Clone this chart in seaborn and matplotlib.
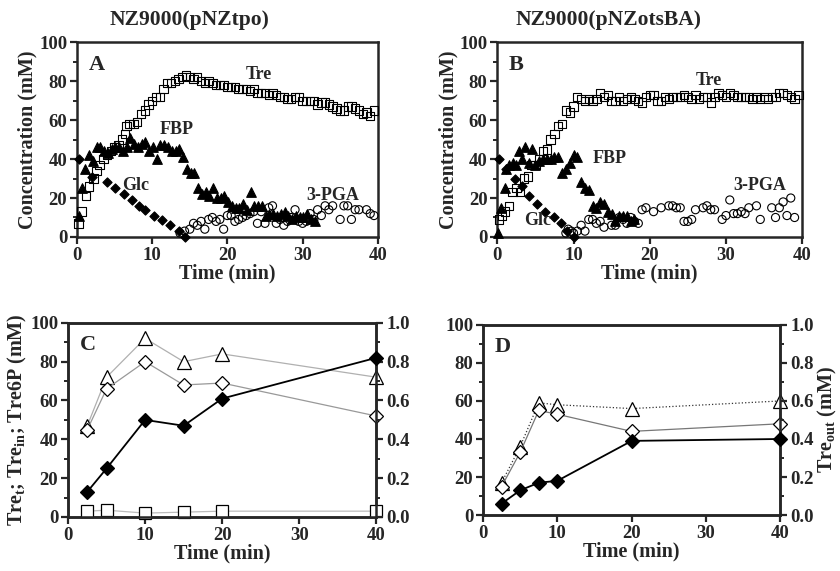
import matplotlib
matplotlib.use("Agg")
import matplotlib.pyplot as plt
import seaborn as sns
import pandas as pd
from matplotlib.ticker import MultipleLocator

sns.set_style("ticks")
plt.rcParams['font.family'] = ['Liberation Serif', 'DejaVu Serif']
plt.rcParams['font.weight'] = 'bold'
plt.rcParams['axes.labelweight'] = 'bold'
plt.rcParams['mathtext.fontset'] = 'custom'
plt.rcParams['mathtext.rm'] = 'Liberation Serif:bold'
plt.rcParams['mathtext.it'] = 'Liberation Serif:bold'
plt.rcParams['mathtext.bf'] = 'Liberation Serif:bold'

# ---------- Panel A ----------
a_tre_t = [0.2,0.6,1.2,1.6,2.2,2.6,3.0,3.5,4.0,4.5,5.0,5.5,6.0,6.4,6.6,7.0,7.5,8.0,8.5,9.0,9.5,10,10.5,11,11.5,12,12.5,13,13.5,14,14.5,15,15.5,16,16.5,17,17.5,18,18.5,19,19.5,20,20.5,21,21.5,22,22.5,23,23.5,24,24.5,25,25.5,26,26.5,27,27.5,28,28.5,29,29.5,30,30.5,31,31.5,32,32.5,33,33.5,34,34.5,35,35.5,36,36.5,37,37.5,38,38.5,39,39.5]
a_tre = [7,13,21,26,30,34,37,40,42,44,46,47,50,53,57,58,58,59,63,65,68,70,72,72,76,79,79,80,81,82,83,82,81,82,80,79,80,79,78,78,78,77,77,77,76,76,76,75,76,74,74,74,73,74,73,72,72,71,71,72,72,70,70,70,70,68,69,69,68,67,66,65,65,67,67,66,65,63,64,62,65]
a_fbp_t = [0.3,0.6,1.0,1.6,2.1,2.6,3.1,3.6,4.1,4.6,5.1,5.6,6.1,6.6,7.1,7.6,8.1,8.6,9.1,9.6,10.1,10.6,11.1,11.6,12.1,12.6,13.1,13.6,14.1,14.6,15.1,15.6,16.1,16.6,17.1,17.6,18.1,18.6,19.1,19.6,20.1,20.6,21.1,21.6,22.1,22.6,23.1,23.6,24.1,24.6,25.1,25.6,26.1,26.6,27.1,27.6,28.1,28.6,29.1,29.6,30.1,30.6,31.1,31.6]
a_fbp = [11,25,35,42,39,46,46,44,43,45,46,46,44,46,51,48,46,48,49,44,46,40,47,47,46,44,44,45,41,35,33,33,25,22,23,21,25,20,20,21,18,16,15,15,17,14,23,16,16,16,11,12,12,11,12,13,11,9,11,10,10,12,9,8]
a_glc_t = [0.2,2.0,4.0,5.1,6.2,7.3,8.2,9.0,10.2,11.3,12.4,13.5,14.3]
a_glc = [40,31,28,25,22,19,16,14,11,8.5,6,3,0]
a_pga_t = [13.7,14.3,15,15.5,16,16.5,17,17.5,18,18.5,19,19.5,20,20.5,21,21.5,22,22.5,23,23.5,24,24.5,25,25.5,26,26.5,27,27.5,28,28.5,29,29.5,30,30.5,31,31.5,32,32.5,33,33.5,34,35,35.5,36,36.5,37,37.5,38.5,39,39.5]
a_pga = [2,3,4,7,6,8,4,9,10,8,9,4,11,11,8,9,10,11,12,13,7,13,7,15,16,7,9,6,8,10,14,8,7,8,12,9,14,11,16,14,16,9,16,16,9,14,14,14,12,11]

# ---------- Panel B ----------
b_tre_t = [0.2,0.6,1,1.5,2,2.5,3,3.5,4,4.5,5,5.5,6,6.5,7,7.5,8,8.5,9,9.5,10,10.5,11,11.5,12,12.5,13,13.5,14,14.5,15,15.5,16,16.5,17,17.5,18,18.5,19,19.5,20,20.5,21,21.5,22,22.5,23,23.5,24,24.5,25,25.5,26,26.5,27,27.5,28,28.5,29,29.5,30,30.5,31,31.5,32,32.5,33,33.5,34,34.5,35,35.5,36,36.5,37,37.5,38,38.5,39,39.5]
b_tre = [9,11,13,16,23,25,23,30,31,37,37,40,44,45,50,53,57,58,65,64,67,72,71,70,71,70,71,74,72,73,70,70,72,70,71,72,71,70,69,72,73,73,70,70,72,71,72,72,72,73,72,71,73,71,72,72,69,72,74,73,72,74,73,72,72,72,72,71,72,71,72,71,72,72,74,74,73,72,71,73]
b_fbp_t = [0.1,0.5,1.0,1.2,1.6,2.0,2.5,2.8,3.2,3.6,4.1,4.6,5.0,5.5,6.0,6.5,7.0,7.5,8.0,8.5,9.0,9.5,10,10.5,11,11.5,12,12.5,13,13.5,14,14.5,15,15.5,16,16.5,17,17.5,18]
b_fbp = [2,15,25,35,37,38,37,44,40,46,38,45,37,39,40,40,40,41,41,33,35,38,42,41,28,25,24,16,15,18,17,13,12,8,11,11,11,8,9]
b_glc_t = [0.2,1.2,2.3,3.3,4.1,5.2,6.2,7.4,8.4,9.2,10]
b_glc = [40,35,30,26,21,17,13,10,7,3,0]
b_pga_t = [9,9.3,9.7,10,10.5,11,11.5,12,12.5,13,13.5,14,15,15.5,16,16.5,17,17.5,18,18.5,19,19.5,20.5,21.5,22.5,23,23.5,24,24.5,25,25.5,26,27,27.5,28,28.5,29.5,30,30.5,31,31.5,32,32.5,33,34,34.5,36,36.5,37,37.5,38,38.5,39]
b_pga = [2,4,3,2,3,6,3,9,9,7,8,5,6,6,10,9,7,10,8,7,14,15,13,15,16,16,15,15,8,8,9,14,15,16,14,14,9,11,19,12,12,13,12,15,16,9,15,10,15,18,11,20,10]

# ---------- Panel C ----------
c_t = [2.5,5,10,15,20,40]
c_tri = [47,72,92,80,84,72]
c_dia = [45,66,80,68,69,52]
c_sq = [3,3.5,2,2.5,3,3]
c_out = [0.13,0.25,0.50,0.47,0.61,0.82]

# ---------- Panel D ----------
d_t = [2.5,5,7.5,10,20,40]
d_tri = [17,36,59,58,56,60]
d_dia = [15,33,55,53,44,48]
d_out = [0.06,0.13,0.17,0.18,0.39,0.40]

fig = plt.figure(figsize=(8.4, 5.71), dpi=100)
axA = fig.add_axes([0.0917, 0.585, 0.358, 0.341])
axB = fig.add_axes([0.592, 0.585, 0.363, 0.341])
axC = fig.add_axes([0.081, 0.0946, 0.367, 0.34])
axD = fig.add_axes([0.575, 0.098, 0.354, 0.333])

FS = 13.5
LFS = 14.5
def style(ax, ylabel=True):
    ax.set_xlim(0, 40); ax.set_ylim(0, 100)
    ax.set_xticks([0, 10, 20, 30, 40]); ax.set_yticks([0, 20, 40, 60, 80, 100])
    ax.yaxis.set_minor_locator(MultipleLocator(10))
    for s in ax.spines.values():
        s.set_linewidth(1.8); s.set_visible(True)
    ax.tick_params(width=1.6, length=5, labelsize=FS, direction='out', pad=2)
    ax.tick_params(which='minor', width=1.4, length=3)
    for lab in ax.get_xticklabels() + ax.get_yticklabels():
        lab.set_fontweight('bold')
    ax.set_xlabel('Time (min)', fontsize=LFS, fontweight='bold', labelpad=0)
    if ylabel:
        ax.set_ylabel('Concentration (mM)', fontsize=LFS, fontweight='bold', labelpad=1)

def scat(ax, x, y, marker, filled, s=28):
    sns.scatterplot(x=x, y=y, ax=ax, marker=marker, s=s,
                    color='black' if filled else 'none',
                    edgecolor='black', linewidth=0.8, clip_on=False, zorder=3)

for ax, tre_t, tre, fbp_t, fbp, glc_t, glc, pga_t, pga in [
        (axA, a_tre_t, a_tre, a_fbp_t, a_fbp, a_glc_t, a_glc, a_pga_t, a_pga),
        (axB, b_tre_t, b_tre, b_fbp_t, b_fbp, b_glc_t, b_glc, b_pga_t, b_pga)]:
    scat(ax, tre_t, tre, 's', False, 36)
    scat(ax, fbp_t, fbp, '^', True, 48)
    scat(ax, glc_t, glc, 'D', True, 22)
    scat(ax, pga_t, pga, 'o', False, 34)
    style(ax)

tk = dict(fontsize=13, fontweight='bold')
axA.text(1.5, 86, 'A', fontsize=16, fontweight='bold')
axA.text(22.5, 81, 'Tre', **tk)
axA.text(11, 53, 'FBP', **tk)
axA.text(6, 24, 'Glc', **tk)
axA.text(30.5, 19, '3-PGA', **tk)
axB.text(1.5, 86, 'B', fontsize=16, fontweight='bold')
axB.text(26, 78, 'Tre', **tk)
axB.text(12.5, 38, 'FBP', **tk)
axB.text(3.5, 6, 'Glc', **tk)
axB.text(31, 24, '3-PGA', **tk)

fig.text(0.226, 0.965, 'NZ9000(pNZtpo)', ha='center', va='center', fontsize=15.5, fontweight='bold')
fig.text(0.724, 0.965, 'NZ9000(pNZotsBA)', ha='center', va='center', fontsize=15.5, fontweight='bold')

def lineset(ax, x, y, marker, filled, color, ls='-', lw=0.9, s=7):
    sns.lineplot(x=x, y=y, ax=ax, color=color, linestyle=ls, linewidth=lw,
                 marker=marker, markersize=s, markerfacecolor='black' if filled else 'white',
                 markeredgecolor='black', markeredgewidth=0.9, clip_on=False, zorder=3)

# Panel C
lineset(axC, c_t, c_tri, '^', False, '#b0b0b0', s=10)
lineset(axC, c_t, c_dia, 'D', False, '#999999', s=7)
lineset(axC, c_t, c_sq, 's', False, '#bbbbbb', s=8)
style(axC, ylabel=False)
axC.set_ylabel('Tre$_{\\rm t}$; Tre$_{\\rm in}$; Tre6P (mM)', fontsize=LFS, labelpad=1)
axC2 = axC.twinx()
lineset(axC2, c_t, c_out, 'D', True, 'black', lw=1.3, s=7)
axC.text(1.5, 86, 'C', fontsize=16, fontweight='bold')

# Panel D
lineset(axD, d_t, d_tri, '^', False, '#333333', ls=':', s=10)
lineset(axD, d_t, d_dia, 'D', False, '#777777', s=7)
style(axD, ylabel=False)
axD2 = axD.twinx()
lineset(axD2, d_t, d_out, 'D', True, 'black', lw=1.3, s=7)
axD2.set_ylabel('Tre$_{\\rm out}$ (mM)', fontsize=LFS, fontweight='bold', labelpad=2)
axD.text(1.5, 86, 'D', fontsize=16, fontweight='bold')

for ax2 in (axC2, axD2):
    ax2.set_ylim(0, 1.0)
    ax2.set_yticks([0, 0.2, 0.4, 0.6, 0.8, 1.0])
    ax2.set_yticklabels(['0.0', '0.2', '0.4', '0.6', '0.8', '1.0'])
    ax2.yaxis.set_minor_locator(MultipleLocator(0.1))
    ax2.tick_params(width=1.6, length=5, labelsize=FS, pad=2)
    ax2.tick_params(which='minor', width=1.4, length=3)
    for lab in ax2.get_yticklabels():
        lab.set_fontweight('bold')
    for s in ax2.spines.values():
        s.set_linewidth(1.8)
axC2.set_ylabel('')

fig.savefig('out.png', dpi=100)
